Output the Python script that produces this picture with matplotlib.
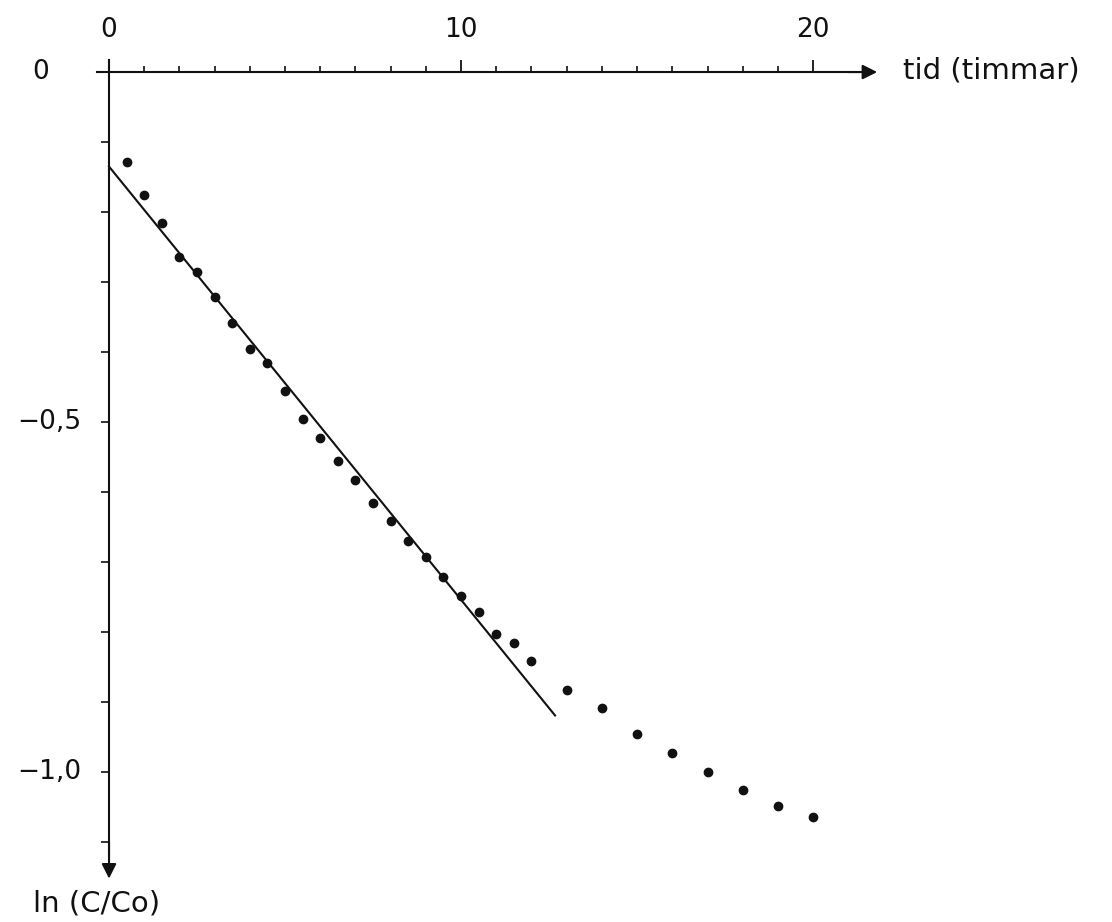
import matplotlib.pyplot as plt
import numpy as np

# measured points: time in hours and ln(C/Co)
t_hours = [0.5, 1.0, 1.5, 2.0, 2.5, 3.0, 3.5, 4.0, 4.5, 5.0, 5.5, 6.0,
           6.5, 7.0, 7.5, 8.0, 8.5, 9.0, 9.5, 10.0, 10.5, 11.0, 11.5, 12.0,
           13, 14, 15, 16, 17, 18, 19, 20]
ln_ratio = [-0.128, -0.176, -0.216, -0.264, -0.285, -0.321, -0.358, -0.395,
            -0.416, -0.455, -0.496, -0.522, -0.556, -0.582, -0.616, -0.641,
            -0.670, -0.692, -0.721, -0.749, -0.771, -0.802, -0.815, -0.841,
            -0.883, -0.909, -0.946, -0.972, -1.000, -1.025, -1.049, -1.064]

# fitted straight line
fit_t = [0.0, 12.67]
fit_ln = [-0.135, -0.919]

x_ticks = [0, 10, 20]
x_tick_labels = ['0', '10', '20']
y_ticks = [0, -0.5, -1.0]
y_tick_labels = ['0', '\u22120,5', '\u22121,0']

plt.rcParams['font.family'] = ['DejaVu Sans']
fs = 19
fs_title = 21
col = '#111111'

fig = plt.figure(figsize=(11.12, 9.22), dpi=100)
ax = fig.add_axes([0, 0, 1, 1])
ax.set_xlim(-3.097, 28.49)
ax.set_ylim(-1.214, 0.1029)

for s in ('right', 'bottom'):
    ax.spines[s].set_visible(False)
ax.spines['top'].set_position(('data', 0))
ax.spines['left'].set_position(('data', 0))
ax.spines['top'].set_bounds(-0.35, 21.3)
ax.spines['left'].set_bounds(-1.12, 0.017)
for s in ('top', 'left'):
    ax.spines[s].set_linewidth(1.5)
    ax.spines[s].set_color(col)

ax.xaxis.tick_top()
ax.set_xticks(x_ticks)
ax.set_xticklabels(x_tick_labels, fontsize=fs, color=col)
ax.set_xticks(np.arange(0, 21, 1), minor=True)
ax.tick_params(axis='x', which='major', direction='out', length=9, width=1.3, pad=12, colors=col)
ax.tick_params(axis='x', which='minor', direction='out', length=4, width=1.2, colors=col)

ax.set_yticks(np.round(np.arange(0, -1.15, -0.1), 2))
ax.set_yticklabels([])
ax.tick_params(axis='y', which='major', direction='out', length=6, width=1.2, colors=col)
for yv, lab in zip(y_ticks, y_tick_labels):
    xpos = -2.19 if lab == '0' else -2.62
    ax.text(xpos, yv, lab, fontsize=fs, color=col, ha='left', va='center')

# arrow heads
ax.annotate('', xy=(21.82, 0), xytext=(21.0, 0),
            arrowprops=dict(arrowstyle='-|>', color=col, lw=1.5,
                            mutation_scale=22, shrinkA=0, shrinkB=0))
ax.annotate('', xy=(0, -1.152), xytext=(0, -1.10),
            arrowprops=dict(arrowstyle='-|>', color=col, lw=1.5,
                            mutation_scale=22, shrinkA=0, shrinkB=0))

ax.text(22.55, 0.002, 'tid (timmar)', fontsize=fs_title, color=col, ha='left', va='center')
ax.text(-2.15, -1.187, 'ln (C/Co)', fontsize=fs_title, color=col, ha='left', va='center')

ax.plot(fit_t, fit_ln, color=col, lw=1.5)
ax.plot(t_hours, ln_ratio, 'o', color=col, markersize=6)

fig.savefig('out.png', dpi=100)
